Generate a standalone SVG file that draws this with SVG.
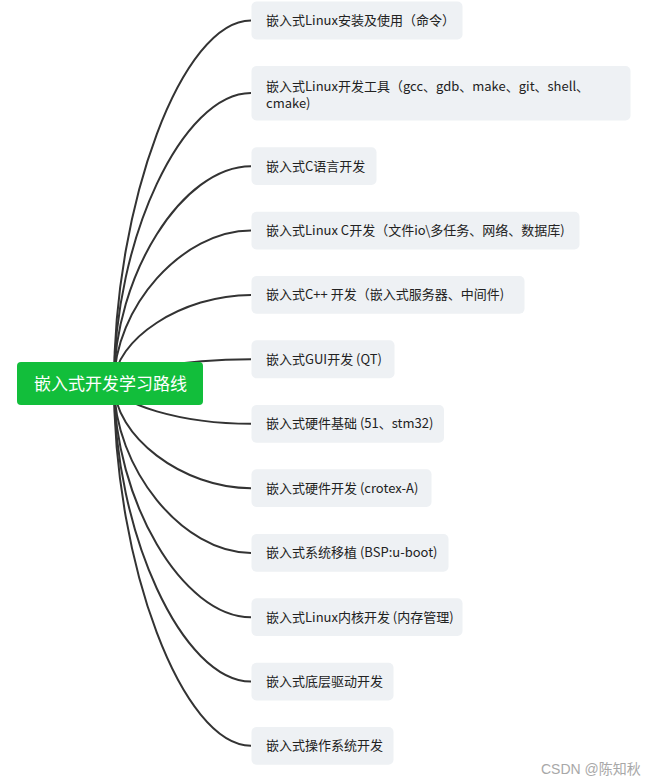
<svg xmlns="http://www.w3.org/2000/svg" width="657" height="784" viewBox="0 0 657 784">
<style>
.edge{fill:none;stroke:#333333;stroke-width:2}
.box{fill:#EEF1F4}
.lbl{font-family:"Microsoft YaHei","Noto Sans CJK SC","Noto Sans",sans-serif;font-size:13px;fill:#222222}
.root{fill:#12BE3B}
.rootlbl{font-family:"Noto Sans CJK SC","Noto Sans",sans-serif;font-size:17px;fill:#ffffff;text-anchor:middle}
.wm{font-family:"Liberation Sans","Noto Sans CJK SC",sans-serif;font-size:14px;fill:#a8a8a8}
</style>
<rect width="657" height="784" fill="#ffffff"/>
<g id="connectors">
<path class="edge" d="M114 384 C114 202.2 182.5 20.5 251 20.5"/>
<path class="edge" d="M114 384 C114 238.5 182.5 93 251 93"/>
<path class="edge" d="M114 384 C114 275.1 182.5 166.2 251 166.2"/>
<path class="edge" d="M114 384 C114 307.2 182.5 230.5 251 230.5"/>
<path class="edge" d="M114 384 C114 339.4 182.5 294.9 251 294.9"/>
<path class="edge" d="M114 384 C114 371.6 182.5 359.3 251 359.3"/>
<path class="edge" d="M114 384 C114 403.9 182.5 423.8 251 423.8"/>
<path class="edge" d="M114 384 C114 436.1 182.5 488.2 251 488.2"/>
<path class="edge" d="M114 384 C114 468.4 182.5 552.9 251 552.9"/>
<path class="edge" d="M114 384 C114 500.6 182.5 617.2 251 617.2"/>
<path class="edge" d="M114 384 C114 532.7 182.5 681.5 251 681.5"/>
<path class="edge" d="M114 384 C114 564.9 182.5 745.7 251 745.7"/>
</g>
<g id="root">
<rect class="root" x="17" y="362" width="186" height="43" rx="4"/>
<text class="rootlbl" x="110.5" y="390">嵌入式开发学习路线</text>
</g>
<g id="n1"><rect class="box" x="251.5" y="1.5" width="211" height="38" rx="5"/><text class="lbl" x="266" y="25">嵌入式Linux安装及使用（命令）</text></g>
<g id="n2"><rect class="box" x="251.5" y="66" width="379" height="54.5" rx="5"/><text class="lbl" x="266" y="90.5">嵌入式Linux开发工具（gcc、gdb、make、git、shell、<tspan x="266" y="107.5">cmake)</tspan></text></g>
<g id="n3"><rect class="box" x="251.5" y="147.3" width="125" height="37.7" rx="5"/><text class="lbl" x="266" y="170.7">嵌入式C语言开发</text></g>
<g id="n4"><rect class="box" x="251.5" y="211.7" width="328" height="37.7" rx="5"/><text class="lbl" x="266" y="235">嵌入式Linux C开发（文件io\多任务、网络、数据库)</text></g>
<g id="n5"><rect class="box" x="251.5" y="276" width="273" height="37.7" rx="5"/><text class="lbl" x="266" y="299.4">嵌入式C++ 开发（嵌入式服务器、中间件)</text></g>
<g id="n6"><rect class="box" x="251.5" y="340.3" width="143" height="38" rx="5"/><text class="lbl" x="266" y="363.8">嵌入式GUI开发 (QT)</text></g>
<g id="n7"><rect class="box" x="251.5" y="405" width="192.5" height="37.7" rx="5"/><text class="lbl" x="266" y="428.3">嵌入式硬件基础 (51、stm32)</text></g>
<g id="n8"><rect class="box" x="251.5" y="469.3" width="180" height="37.7" rx="5"/><text class="lbl" x="266" y="492.7">嵌入式硬件开发 (crotex-A)</text></g>
<g id="n9"><rect class="box" x="251.5" y="534" width="197" height="37.7" rx="5"/><text class="lbl" x="266" y="557.4">嵌入式系统移植 (BSP:u-boot)</text></g>
<g id="n10"><rect class="box" x="251.5" y="598.3" width="211" height="37.7" rx="5"/><text class="lbl" x="266" y="621.7">嵌入式Linux内核开发 (内存管理)</text></g>
<g id="n11"><rect class="box" x="251.5" y="662.7" width="142" height="37.7" rx="5"/><text class="lbl" x="266" y="686">嵌入式底层驱动开发</text></g>
<g id="n12"><rect class="box" x="251.5" y="727" width="142" height="37.7" rx="5"/><text class="lbl" x="266" y="750.2">嵌入式操作系统开发</text></g>
<text class="wm" x="541" y="774">CSDN @陈知秋</text>
</svg>
